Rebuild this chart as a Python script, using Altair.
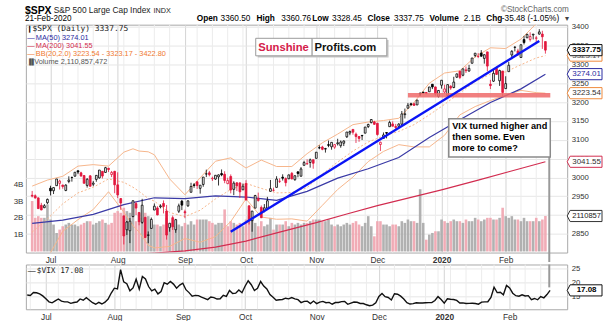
import json
import altair as alt
import pandas as pd

# ---------------------------------------------------------------- data
trading_days = {
    "2019-06": [21, 24, 25, 26, 27, 28],
    "2019-07": [1, 2, 3, 5, 8, 9, 10, 11, 12, 15, 16, 17, 18, 19, 22, 23, 24, 25, 26, 29, 30, 31],
    "2019-08": [1, 2, 5, 6, 7, 8, 9, 12, 13, 14, 15, 16, 19, 20, 21, 22, 23, 26, 27, 28, 29, 30],
    "2019-09": [3, 4, 5, 6, 9, 10, 11, 12, 13, 16, 17, 18, 19, 20, 23, 24, 25, 26, 27, 30],
    "2019-10": [1, 2, 3, 4, 7, 8, 9, 10, 11, 14, 15, 16, 17, 18, 21, 22, 23, 24, 25, 28, 29, 30, 31],
    "2019-11": [1, 4, 5, 6, 7, 8, 11, 12, 13, 14, 15, 18, 19, 20, 21, 22, 25, 26, 27, 29],
    "2019-12": [2, 3, 4, 5, 6, 9, 10, 11, 12, 13, 16, 17, 18, 19, 20, 23, 24, 26, 27, 30, 31],
    "2020-01": [2, 3, 6, 7, 8, 9, 10, 13, 14, 15, 16, 17, 21, 22, 23, 24, 27, 28, 29, 30, 31],
    "2020-02": [3, 4, 5, 6, 7, 10, 11, 12, 13, 14, 18, 19, 20, 21],
}
month_labels = ["Jul", "Aug", "Sep", "Oct", "Nov", "Dec", "2020", "Feb"]
prev_close_before = 2954.18

opens = [
    2952.71, 2951.42, 2945.78, 2926.07, 2919.66, 2932.94,
    2971.41, 2964.66, 2978.08, 2984.25, 2979.77, 2965.52, 2989.30, 2999.62, 3003.36, 3017.80, 3012.13,
    3005.10, 2978.87, 3004.26, 2981.93, 2994.74, 2998.77, 3016.26, 3013.25, 3024.47, 3007.66, 3016.22,
    2980.32, 2943.90, 2898.07, 2861.18, 2858.65, 2896.21, 2930.51, 2907.07, 2880.72, 2894.15, 2846.20,
    2864.74, 2913.48, 2919.01, 2922.04, 2930.94, 2911.07, 2866.70, 2893.14, 2861.28, 2910.37, 2937.09,
    2909.01, 2924.67, 2960.60, 2980.33, 2988.43, 2971.01, 2981.41, 3009.08, 3012.21, 2996.41, 2995.67,
    3001.50, 3010.36, 3008.42, 2983.50, 3002.43, 2968.35, 2985.73, 2985.47, 2967.07,
    2983.69, 2924.78, 2885.38, 2918.56, 2944.23, 2920.40, 2911.10, 2918.55, 2963.07, 2965.81, 2973.61,
    2989.68, 3000.77, 2996.84, 2996.48, 3010.73, 2994.01, 3014.78, 3003.32, 3032.12, 3035.39, 3039.74, 3046.90,
    3050.72, 3078.96, 3080.80, 3075.10, 3087.02, 3081.25, 3080.33, 3089.28, 3084.18, 3090.75, 3107.92,
    3117.91, 3127.45, 3114.66, 3108.49, 3111.41, 3117.44, 3134.85, 3145.49, 3147.18,
    3143.85, 3087.41, 3103.50, 3119.21, 3134.62, 3141.86, 3135.36, 3135.75, 3141.23, 3166.65, 3183.63,
    3195.40, 3195.21, 3192.32, 3223.33, 3226.05, 3225.45, 3227.20, 3247.23, 3240.09, 3215.18,
    3244.67, 3226.36, 3217.55, 3241.86, 3238.59, 3266.03, 3281.81, 3271.13, 3285.35, 3282.27, 3302.97,
    3323.66, 3321.03, 3330.02, 3315.77, 3333.10, 3247.16, 3255.35, 3289.46, 3256.45, 3282.33,
    3235.66, 3280.61, 3324.91, 3344.92, 3335.54, 3318.28, 3365.87, 3370.50, 3365.90, 3378.08, 3369.04,
    3380.39, 3380.45, 3360.50,
]
highs = [
    2964.15, 2954.92, 2946.52, 2932.59, 2929.30, 2943.98,
    2977.93, 2973.21, 2995.84, 2994.03, 2980.76, 2981.90, 3002.98, 3002.33, 3013.92, 3017.80, 3015.02,
    3005.26, 2998.28, 3006.02, 2990.71, 3005.90, 3019.59, 3016.31, 3027.98, 3025.61, 3017.19, 3017.40,
    3013.59, 2945.50, 2898.07, 2884.40, 2892.17, 2938.72, 2935.75, 2907.58, 2943.31, 2894.15, 2856.67,
    2893.63, 2931.00, 2923.63, 2928.73, 2939.08, 2927.01, 2879.27, 2898.79, 2890.03, 2930.50, 2940.43,
    2914.39, 2938.84, 2985.86, 2985.03, 2989.43, 2979.39, 3000.93, 3020.74, 3017.33, 3002.19, 3006.21,
    3007.83, 3021.19, 3016.37, 2999.15, 3007.98, 2989.82, 2987.28, 2987.31, 2983.85,
    2992.53, 2924.78, 2911.13, 2953.74, 2959.75, 2925.47, 2929.32, 2948.46, 2993.28, 2972.84, 3003.28,
    2997.54, 3008.29, 3000.00, 3007.33, 3014.57, 3004.78, 3016.07, 3027.39, 3044.08, 3047.87, 3050.10, 3046.90,
    3066.95, 3085.20, 3083.95, 3078.34, 3097.77, 3093.09, 3088.33, 3102.61, 3098.06, 3098.20, 3120.46,
    3124.17, 3127.64, 3118.97, 3110.11, 3112.87, 3133.83, 3142.69, 3154.26, 3150.30,
    3144.31, 3094.97, 3119.38, 3119.45, 3150.60, 3148.87, 3142.12, 3143.98, 3176.28, 3182.68, 3197.71,
    3198.22, 3198.48, 3205.48, 3225.65, 3227.78, 3226.43, 3240.08, 3247.93, 3240.92, 3231.72,
    3258.14, 3246.15, 3246.84, 3244.91, 3267.07, 3275.58, 3282.99, 3288.13, 3294.25, 3298.66, 3317.11,
    3329.88, 3329.79, 3337.77, 3326.88, 3333.18, 3258.85, 3285.78, 3293.47, 3285.91, 3282.33,
    3268.44, 3306.92, 3337.58, 3347.96, 3341.42, 3352.26, 3375.63, 3381.47, 3385.09, 3380.69, 3375.01,
    3393.52, 3389.15, 3360.76,
]
lows = [
    2946.87, 2944.05, 2916.01, 2912.99, 2918.57, 2929.05,
    2952.22, 2955.92, 2977.96, 2967.97, 2970.09, 2963.44, 2984.62, 2988.80, 3001.87, 3008.77, 3001.15,
    2984.25, 2973.09, 2975.86, 2976.65, 2988.56, 2996.82, 2997.24, 3012.59, 3014.30, 3000.94, 2958.08,
    2945.23, 2914.11, 2822.12, 2847.42, 2825.71, 2894.47, 2900.15, 2873.14, 2877.05, 2839.64, 2825.51,
    2864.74, 2913.48, 2899.60, 2917.91, 2904.51, 2834.97, 2856.00, 2860.59, 2853.05, 2905.67, 2913.32,
    2891.85, 2921.86, 2960.60, 2972.51, 2969.39, 2957.01, 2975.31, 3000.92, 3002.90, 2990.67, 2993.73,
    2978.57, 3003.16, 2984.68, 2982.23, 2957.73, 2952.86, 2963.71, 2945.53, 2967.07,
    2938.70, 2874.93, 2855.94, 2918.56, 2935.68, 2892.66, 2907.41, 2917.12, 2963.07, 2962.94, 2973.61,
    2985.20, 2991.79, 2976.31, 2995.35, 2995.04, 2991.21, 3000.42, 3001.94, 3032.12, 3034.81, 3025.96, 3023.19,
    3050.72, 3074.87, 3072.15, 3065.89, 3080.23, 3073.58, 3075.82, 3084.73, 3078.80, 3083.26, 3104.60,
    3112.06, 3113.47, 3091.41, 3094.55, 3099.26, 3117.44, 3131.00, 3143.41, 3139.34,
    3110.78, 3070.33, 3102.53, 3103.76, 3134.62, 3135.46, 3126.09, 3133.21, 3138.47, 3156.51, 3183.63,
    3191.03, 3191.14, 3192.32, 3216.03, 3222.30, 3220.51, 3227.20, 3234.37, 3216.57, 3212.03,
    3235.53, 3222.34, 3214.64, 3232.43, 3236.67, 3263.67, 3260.86, 3268.43, 3277.19, 3280.69, 3302.82,
    3318.86, 3316.61, 3320.04, 3301.87, 3281.53, 3234.50, 3253.22, 3271.89, 3242.80, 3214.68,
    3235.66, 3280.61, 3313.75, 3334.39, 3322.12, 3317.77, 3352.72, 3369.72, 3360.52, 3366.15, 3355.61,
    3378.83, 3341.02, 3328.45,
]
closes = [
    2950.46, 2945.35, 2917.38, 2913.78, 2924.92, 2941.76,
    2964.33, 2973.01, 2995.82, 2990.41, 2975.95, 2979.63, 2993.07, 2999.91, 3013.77, 3014.30, 3004.04,
    2984.42, 2995.11, 2976.61, 2985.03, 3005.47, 3019.56, 3003.67, 3025.86, 3020.97, 3013.18, 2980.38,
    2953.56, 2932.05, 2844.74, 2881.77, 2883.98, 2938.09, 2918.65, 2882.70, 2926.32, 2840.60, 2847.60,
    2888.68, 2923.65, 2900.51, 2924.43, 2922.95, 2847.11, 2878.38, 2869.16, 2887.94, 2924.58, 2926.46,
    2906.27, 2937.78, 2976.00, 2978.71, 2978.43, 2979.39, 3000.93, 3009.57, 3007.39, 2997.96, 3005.70,
    3006.73, 3006.79, 2992.07, 2991.78, 2966.60, 2984.87, 2977.62, 2961.79, 2976.74,
    2940.25, 2887.61, 2910.63, 2952.01, 2938.79, 2893.06, 2919.40, 2938.13, 2970.27, 2966.15, 2995.68,
    2989.69, 2997.95, 2986.20, 3006.72, 2995.99, 3004.52, 3010.29, 3022.55, 3039.42, 3036.89, 3046.77, 3037.56,
    3066.91, 3078.27, 3074.62, 3076.78, 3085.18, 3093.08, 3087.01, 3091.84, 3094.04, 3096.63, 3120.46,
    3122.03, 3120.18, 3108.46, 3103.54, 3110.29, 3133.64, 3140.52, 3153.63, 3140.98,
    3113.87, 3093.20, 3112.76, 3117.43, 3145.91, 3135.96, 3132.52, 3141.63, 3168.57, 3168.80, 3191.45,
    3192.52, 3191.14, 3205.37, 3221.22, 3224.01, 3223.38, 3239.91, 3240.02, 3221.29, 3230.78,
    3257.85, 3234.85, 3246.28, 3237.18, 3253.05, 3274.70, 3265.35, 3288.13, 3283.15, 3289.29, 3316.81,
    3329.62, 3320.79, 3321.75, 3325.54, 3295.47, 3243.63, 3276.24, 3273.40, 3283.66, 3225.52,
    3248.92, 3297.59, 3334.69, 3345.78, 3327.71, 3352.09, 3357.75, 3379.45, 3373.94, 3380.16, 3370.29,
    3386.15, 3373.23, 3337.75,
]
volume_bn = [
    3.0, 2.0, 2.1, 2.0, 2.0, 2.8,
    1.9, 1.6, 1.1, 1.3, 1.5, 1.6, 1.7, 1.6, 1.6, 1.5, 1.6, 1.7, 1.8, 1.8, 1.6, 1.7, 1.8, 1.9, 1.7, 1.6, 1.7, 2.3,
    2.4, 2.3, 2.6, 2.4, 2.3, 2.1, 1.8, 1.8, 2.0, 2.3, 2.1, 1.8, 1.6, 1.6, 1.5, 1.6, 2.0, 1.4, 1.7, 1.5, 1.6, 1.5,
    1.7, 1.6, 1.8, 1.6, 1.9, 1.9, 1.9, 1.9, 1.8, 1.7, 1.6, 1.7, 1.7, 2.5, 1.5, 1.8, 1.7, 1.6, 1.7, 1.5,
    1.9, 2.1, 1.9, 1.7, 1.5, 1.8, 1.5, 1.6, 2.0, 1.3, 1.6, 1.6, 1.6, 1.8, 1.5, 1.7, 1.6, 1.7, 1.6, 1.7, 1.7, 1.8, 1.9,
    1.9, 1.9, 1.8, 1.8, 1.9, 1.6, 1.5, 1.6, 1.5, 1.6, 1.7, 1.6, 1.7, 1.8, 1.6, 1.5, 1.7, 2.1, 1.5, 0.9,
    1.8, 1.8, 1.6, 1.6, 1.5, 1.6, 1.6, 1.5, 1.8, 1.7, 1.9, 1.8, 1.8, 1.7, 3.7, 1.7, 0.7, 1.0, 1.1, 1.2, 1.2,
    1.9, 1.8, 1.7, 1.8, 1.9, 1.8, 1.8, 1.7, 1.9, 1.8, 1.8, 2.0, 1.9, 1.8, 1.9, 2.0, 2.0, 1.9, 1.9, 2.0, 2.6,
    2.1, 2.0, 2.1, 1.9, 1.9, 1.8, 2.0, 1.8, 1.8, 1.8, 2.0, 1.8, 1.9, 2.11,
]
vix_close = [
    15.40, 15.26, 16.28, 16.21, 15.82, 15.08,
    14.06, 12.93, 12.57, 13.28, 13.96, 13.19, 12.93, 12.93, 12.39, 12.68, 12.86, 13.97, 13.53, 14.45,
    13.53, 12.61, 12.07, 12.74, 12.16, 12.83, 13.94, 16.12,
    17.87, 17.61, 24.59, 20.17, 19.49, 16.91, 17.97, 21.09, 17.52, 22.10, 21.18, 18.47, 16.88, 17.50,
    15.80, 16.68, 19.87, 19.32, 20.31, 19.35, 17.88, 18.98,
    19.66, 17.33, 16.27, 15.00, 15.27, 15.20, 14.61, 14.22, 13.74, 14.67, 14.44, 13.95, 14.05, 15.32,
    14.91, 17.05, 15.96, 16.07, 17.22, 16.24,
    18.56, 20.56, 19.12, 17.04, 17.86, 20.28, 18.64, 17.57, 15.58, 14.57, 13.54, 13.68, 13.79, 14.25,
    14.00, 14.46, 14.01, 13.71, 12.65, 13.11, 13.20, 12.33, 13.22,
    12.30, 12.83, 13.10, 12.62, 12.73, 12.07, 12.69, 12.68, 13.00, 13.05, 12.05, 12.46, 12.86, 12.78,
    12.34, 12.34, 11.87, 11.54, 11.75, 12.62,
    14.91, 15.96, 14.80, 14.52, 13.62, 15.86, 15.68, 14.99, 13.94, 12.63, 12.14, 12.29, 12.58, 12.50,
    12.51, 12.61, 12.67, 12.65, 13.43, 14.82, 13.78,
    12.47, 14.02, 13.85, 13.79, 13.45, 12.54, 12.56, 12.32, 12.39, 12.42, 12.32, 12.10, 12.85, 12.91,
    12.98, 14.56, 18.23, 16.28, 16.39, 15.49, 18.84,
    17.97, 16.05, 15.15, 14.96, 15.47, 15.04, 15.18, 13.74, 14.15, 13.68, 14.83, 14.38, 15.56, 17.08,
]

ma50_dates = ["2019-06-21", "2019-07-08", "2019-07-22", "2019-08-05", "2019-08-19", "2019-09-03",
              "2019-09-17", "2019-10-01", "2019-10-15", "2019-10-29", "2019-11-12", "2019-11-26",
              "2019-12-11", "2019-12-26", "2020-01-10", "2020-01-27", "2020-02-10", "2020-02-21"]
ma50_vals = [2878, 2886.5, 2902, 2928, 2946, 2944, 2951, 2948, 2939, 2963, 2998, 3023,
             3053, 3106, 3153, 3199, 3235, 3274.01]

ma200_dates = ["2019-08-01", "2019-08-20", "2019-09-03", "2019-09-17", "2019-10-01", "2019-10-16",
               "2019-11-01", "2019-11-15", "2019-12-02", "2019-12-17", "2020-01-02", "2020-01-21",
               "2020-02-04", "2020-02-21"]
ma200_vals = [2792, 2800, 2805, 2815, 2831, 2855, 2880, 2903, 2925, 2947, 2967, 2993, 3015, 3041.55]

bb_dates = ["2019-06-21", "2019-06-28", "2019-07-08", "2019-07-15", "2019-07-22", "2019-07-29",
            "2019-08-05", "2019-08-08", "2019-08-12", "2019-08-15", "2019-08-19", "2019-08-26",
            "2019-09-03", "2019-09-10", "2019-09-17", "2019-09-24", "2019-10-01", "2019-10-08",
            "2019-10-15", "2019-10-22", "2019-10-29", "2019-11-05", "2019-11-12", "2019-11-19",
            "2019-11-26", "2019-12-04", "2019-12-11", "2019-12-18", "2019-12-26", "2020-01-03",
            "2020-01-10", "2020-01-17", "2020-01-27", "2020-02-03", "2020-02-10", "2020-02-18",
            "2020-02-21"]
bb_lower = [2734, 2786, 2857, 2888, 2915, 2962, 2908, 2872, 2855, 2820, 2813, 2817, 2838, 2828,
            2843, 2883, 2943, 2895, 2889, 2890, 2884, 2926, 2968, 3001, 3042, 3069, 3087, 3081,
            3081, 3112, 3166, 3188, 3204, 3218, 3231, 3225, 3223.54]
bb_mid = [2855, 2890, 2930, 2959, 2974, 2996, 2987, 2974, 2963, 2944, 2937, 2907, 2896, 2913,
          2943, 2968, 2984, 2971, 2959, 2960, 2973, 3009, 3041, 3070, 3094, 3110, 3122, 3140,
          3166, 3194, 3224, 3254, 3274, 3280, 3299, 3317, 3323.17]
bb_upper = [2977, 2993, 3003, 3030, 3034, 3030, 3067, 3076, 3070, 3068, 3060, 2996, 2954, 2999,
            3043, 3052, 3025, 3046, 3029, 3029, 3063, 3092, 3115, 3140, 3147, 3151, 3157, 3199,
            3250, 3277, 3283, 3320, 3344, 3342, 3367, 3408, 3422.80]

trend_dates = ["2019-09-24", "2020-02-19"]
trend_prices = [2856, 3362]
support_dates = ["2019-12-16", "2020-02-21"]
support_band = [3212, 3224]

# ---------------------------------------------------------------- layout constants
OX, OY = 25.0, 23.0          # main plot origin on the page
W, H = 544, 229
VH = 45
X_DOMAIN = [-6.43, 167.5]
PRICE_DOMAIN = [2800.7, 3405.3]
VOL_DOMAIN = [-0.065, 13.49]
VIX_DOMAIN = [10.25, 26.44]
RED = "#e2173d"
FONT = "Liberation Sans"

dates = [f"{ym}-{d:02d}" for ym, days in trading_days.items() for d in days]
n = len(dates)
assert all(len(a) == n for a in (opens, highs, lows, closes, volume_bn, vix_close)), n
pos0 = dates.index("2019-07-01")


def ix(d):
    return dates.index(d) - pos0


prev = [prev_close_before] + closes[:-1]
df = pd.DataFrame({
    "idx": [i - pos0 for i in range(n)],
    "o": opens, "h": highs, "l": lows, "c": closes,
    "v": volume_bn, "vix": vix_close,
})
df["dir"] = ["down" if c < p else "up" for c, p in zip(closes, prev)]
df["body"] = [("filled-" if c < o else "hollow-") + d for c, o, d in zip(closes, opens, df["dir"])]

dt = pd.to_datetime(pd.Series(dates))
month_idx = [i - pos0 for i in range(1, n) if dt[i].month != dt[i - 1].month]
week_idx = [i - pos0 for i in range(1, n) if dt[i].dayofweek < dt[i - 1].dayofweek]
month_idx_set = set(month_idx)
week_idx = [w for w in week_idx if w not in month_idx_set]

LABEL_EXPR = f"{json.dumps(month_labels)}[indexof({json.dumps(month_idx)}, datum.value)]"
year_idx = month_idx[month_labels.index("2020")]

XS = alt.Scale(domain=X_DOMAIN, nice=False, zero=False)
XAX = alt.Axis(values=month_idx, labelExpr=LABEL_EXPR,
               labelFontWeight={"condition": {"test": f"datum.value == {year_idx}", "value": "bold"},
                                "value": "normal"},
               title=None, ticks=False, tickSize=0, domain=False, grid=True, gridColor="#d4d4d4",
               labelFontSize=8.4, labelColor="#333333", labelPadding=3, labelFont=FONT,
               labelOverlap=False, labelFlush=False)


def xq(field="idx"):
    return alt.X(f"{field}:Q", scale=XS, axis=XAX)


PS = alt.Scale(domain=PRICE_DOMAIN, nice=False, zero=False)
PAX = alt.Axis(orient="right", values=list(range(2850, 3401, 50)), format="d", title=None,
               ticks=False, tickSize=0, domain=False, grid=True, gridColor="#e6e6e6",
               labelFontSize=7.8, labelColor="#333333", labelPadding=4, labelFont=FONT)


def py(field):
    return alt.Y(f"{field}:Q", scale=PS, axis=PAX)


VS = alt.Scale(domain=VOL_DOMAIN, nice=False, zero=False)
VAX = alt.Axis(orient="left", values=[1, 2, 3, 4], labelExpr="datum.value + 'B'", title=None,
               ticks=False, tickSize=0, domain=False, grid=False, labelFontSize=8,
               labelColor="#333333", labelPadding=3, labelFont=FONT)

VIXS = alt.Scale(domain=VIX_DOMAIN, nice=False, zero=False)
VIXAX = alt.Axis(orient="right", values=[15, 20, 25], format="d", title=None, ticks=False,
                 tickSize=0, domain=False, grid=True, gridColor="#e6e6e6", labelFontSize=7.8,
                 labelColor="#333333", labelPadding=4, labelFont=FONT)

ONE = pd.DataFrame({"k": [0]})


def ptxt(s, x, y, size, color="#000000", weight="normal", font=FONT, align="left",
         baseline="alphabetic", ox=OX, oy=OY):
    return alt.Chart(pd.DataFrame({"t": [s]})).mark_text(
        align=align, baseline=baseline, fontSize=size, font=font, fontWeight=weight, color=color
    ).encode(text="t:N", x=alt.value(x - ox), y=alt.value(y - oy))


def prect(x1, y1, x2, y2, fill, stroke=None, sw=1.0, ox=OX, oy=OY):
    kw = {"fill": fill}
    if stroke:
        kw["stroke"] = stroke
        kw["strokeWidth"] = sw
    return alt.Chart(ONE).mark_rect(**kw).encode(
        x=alt.value(x1 - ox), x2=alt.value(x2 - ox), y=alt.value(y1 - oy), y2=alt.value(y2 - oy))


def prule(x1, y1, x2, y2, color, sw=1.0, ox=OX, oy=OY, opacity=1.0):
    return alt.Chart(ONE).mark_rule(color=color, strokeWidth=sw, opacity=opacity).encode(
        x=alt.value(x1 - ox), x2=alt.value(x2 - ox), y=alt.value(y1 - oy), y2=alt.value(y2 - oy))


TAG_PATH = "M -1 0 L -0.83 -0.32 L 1 -0.32 L 1 0.32 L -0.83 0.32 Z"


def tag(value, label, border, tcolor, yenc, bold=False, size=8, ox=OX):
    d = alt.Chart(pd.DataFrame({"val": [value], "lab": [label]}))
    shape = d.mark_point(shape=TAG_PATH, size=1225, filled=True, fill="white", stroke=border,
                         strokeWidth=1, opacity=1).encode(x=alt.value(586.5 - ox), y=yenc)
    text = d.mark_text(align="center", baseline="middle", fontSize=size, font=FONT,
                       fontWeight="bold" if bold else "normal", color=tcolor).encode(
        x=alt.value(588.5 - ox), y=yenc, text="lab:N")
    return [shape, text]


def indicator(dlist, vals, color, width=1.0, dash=None):
    d = pd.DataFrame({"idx": [ix(x) for x in dlist], "val": vals})
    kw = dict(color=color, strokeWidth=width, clip=True)
    if dash:
        kw["strokeDash"] = dash
    return alt.Chart(d).mark_line(**kw).encode(x=xq(), y=py("val"))


# ---------------------------------------------------------------- main panel
grid_weeks = alt.Chart(pd.DataFrame({"idx": week_idx})).mark_rule(
    color="#ececec", strokeWidth=1).encode(x=xq(), y=alt.value(0), y2=alt.value(H))

vol_bars = alt.Chart(df).mark_bar(size=2.6, opacity=0.9).encode(
    x=xq(), y=alt.Y("v:Q", scale=VS, axis=VAX), y2=alt.Y2Datum(0),
    color=alt.Color("dir:N", scale=alt.Scale(domain=["up", "down"], range=["#a9a9a9", "#efa3ae"]),
                    legend=None))
vol_group = alt.layer(
    vol_bars,
    *tag(volume_bn[-1], "2110857", "#333333", "#222222", alt.Y("val:Q", scale=VS, axis=VAX), size=7.6),
)

bb_col = "#f6b58b"
support_df = pd.DataFrame({"x1": [ix(support_dates[0])], "x2": [ix(support_dates[1]) + 1.6],
                           "lo": [support_band[0]], "hi": [support_band[1]]})
trend_df = pd.DataFrame({"idx": [ix(d) for d in trend_dates], "val": trend_prices})

stroke_scale = alt.Scale(domain=["up", "down"], range=["#000000", RED])
fill_scale = alt.Scale(domain=["hollow-up", "hollow-down", "filled-up", "filled-down"],
                       range=["#ffffff", "#ffffff", "#000000", RED])

price_group = alt.layer(
    indicator(bb_dates, bb_upper, bb_col, 1.0),
    indicator(bb_dates, bb_lower, bb_col, 1.0),
    indicator(bb_dates, bb_mid, bb_col, 1.0, [2, 2]),
    indicator(ma200_dates, ma200_vals, "#d22d50", 1.2),
    indicator(ma50_dates, ma50_vals, "#3a3aa6", 1.2),
    alt.Chart(df).mark_rule(strokeWidth=0.8).encode(
        x=xq(), y=py("l"), y2=alt.Y2("h:Q"),
        stroke=alt.Stroke("dir:N", scale=stroke_scale, legend=None)),
    alt.Chart(df).mark_bar(size=1.8, strokeWidth=0.8).encode(
        x=xq(), y=py("o"), y2=alt.Y2("c:Q"),
        stroke=alt.Stroke("dir:N", scale=stroke_scale, legend=None),
        fill=alt.Fill("body:N", scale=fill_scale, legend=None)),
    alt.Chart(support_df).mark_rect(color="#ee6a6a", opacity=0.85).encode(
        x=alt.X("x1:Q", scale=XS, axis=XAX), x2="x2:Q", y=py("lo"), y2="hi:Q"),
    alt.Chart(trend_df).mark_line(color="#0a14f5", strokeWidth=2.4).encode(x=xq(), y=py("val")),
    *tag(bb_mid[-1], "3323.17", "#f08a3c", "#555555", py("val")),
    *tag(closes[-1], "3337.75", "#111111", "#000000", py("val"), bold=True),
    *tag(ma50_vals[-1], "3274.01", "#2a2aa0", "#2a2aa0", py("val")),
    *tag(bb_lower[-1], "3223.54", "#f08a3c", "#333333", py("val")),
    *tag(ma200_vals[-1], "3041.55", "#d22d50", "#333333", py("val")),
)

annot = alt.layer(
    # bounds anchors (white, invisible) so the page origin sits where the reference has it
    prule(0, 0, 1, 0, "#ffffff"),
    prule(0, 262, 1, 262, "#ffffff"),
    # title block
    ptxt("$SPX", 24, 11.8, 10.5, weight="bold"),
    ptxt("S&P 500 Large Cap Index", 53, 11.5, 8.4, "#222222"),
    ptxt("INDX", 153.3, 11.5, 7.3, "#222222"),
    ptxt("\u00a9StockCharts.com", 570.7, 10, 8.2, "#666666", align="right"),
    ptxt("21-Feb-2020", 24, 19.3, 8.2),
    ptxt("Open", 196.7, 19.3, 8.3, weight="bold"),
    ptxt("3360.50", 220.7, 19.3, 8.3),
    ptxt("High", 256.7, 19.3, 8.3, weight="bold"),
    ptxt("3360.76", 281.7, 19.3, 8.3),
    ptxt("Low", 312.7, 19.3, 8.3, weight="bold"),
    ptxt("3328.45", 332.7, 19.3, 8.3),
    ptxt("Close", 368.3, 19.3, 8.3, weight="bold"),
    ptxt("3337.75", 395, 19.3, 8.3),
    ptxt("Volume", 430.7, 19.3, 8.3, weight="bold"),
    ptxt("2.1B", 465, 19.3, 8.3),
    ptxt("Chg", 487.7, 19.3, 8.3, weight="bold"),
    ptxt("-35.48 (-1.05%)", 503.3, 19.3, 8.3),
    ptxt("\u25be", 566.5, 19.3, 8, "#444444"),
    # in-plot legend
    ptxt("\u2759", 26, 27.5, 7, baseline="middle", font="DejaVu Sans"),
    ptxt("$SPX (Daily) 3337.75", 31.7, 27.5, 8, "#222222", font="DejaVu Sans Mono", baseline="middle"),
    ptxt("\u2014", 26.5, 36, 7.4, "#2a2aa0", baseline="middle"),
    ptxt("MA(50) 3274.01", 35, 36, 7.4, "#2a2aa0", baseline="middle"),
    ptxt("\u2014", 26.5, 44.3, 7.4, "#d22d50", baseline="middle"),
    ptxt("MA(200) 3041.55", 35, 44.3, 7.4, "#d22d50", baseline="middle"),
    ptxt("\u2014", 26.5, 52.7, 7.4, "#f07a30", baseline="middle"),
    ptxt("BB(20,2.0) 3223.54 - 3323.17 - 3422.80", 35, 52.7, 7.4, "#f07a30", baseline="middle"),
    ptxt("\u2590\u258c", 26, 61, 6, "#555555", baseline="middle", font="DejaVu Sans"),
    ptxt("Volume 2,110,857,472", 33.3, 61, 7.4, "#555555", baseline="middle"),
    # Sunshine Profits logo
    prect(258, 38.5, 389.5, 56, "#c8c8c8"),
    prect(256, 36.7, 312.7, 54.3, "#ffffff", "#9a9a9a", 1),
    prect(312.7, 36.7, 387.7, 54.3, "#ffffff", "#9a9a9a", 1),
    ptxt("Sunshine", 258.5, 49.5, 11.3, "#d4204a", weight="bold"),
    ptxt("Profits.com", 315, 49.5, 11.3, "#111111", weight="bold"),
    # VIX comment
    prule(551, 156, 551, 261.5, "#9a9a9a", 2),
    prect(450, 117.5, 552, 156, "#ffffff", "#8a8a8a", 1.5),
    ptxt("VIX turned higher and", 453.5, 127.5, 9.2, weight="bold"),
    ptxt("then some. Even", 453.5, 138.5, 9.2, weight="bold"),
    ptxt("more to come?", 453.5, 149.5, 9.2, weight="bold"),
)

main = alt.layer(grid_weeks, vol_group, price_group, annot).resolve_scale(
    y="independent").properties(width=W, height=H)

# ---------------------------------------------------------------- VIX panel
VOY = 263.0
vix_weeks = alt.Chart(pd.DataFrame({"idx": week_idx})).mark_rule(
    color="#ececec", strokeWidth=1).encode(x=xq(), y=alt.value(0), y2=alt.value(VH))
vix_y = alt.Y("val:Q", scale=VIXS, axis=VIXAX)
vix_panel = alt.layer(
    vix_weeks,
    alt.Chart(df).mark_line(color="#111111", strokeWidth=1.4).encode(
        x=xq(), y=alt.Y("vix:Q", scale=VIXS, axis=VIXAX)),
    prule(551, 263, 551, 286, "#9a9a9a", 2, oy=VOY),
    prule(0, 270, 1, 270, "#ffffff", oy=VOY),
    ptxt("\u2014", 27, 269.5, 8, "#000000", baseline="middle", oy=VOY),
    ptxt("$VIX 17.08", 36, 269.5, 7.8, "#222222", font="DejaVu Sans Mono", baseline="middle", oy=VOY),
    *tag(vix_close[-1], "17.08", "#111111", "#000000", vix_y, bold=True),
).properties(width=W, height=VH)

chart = alt.vconcat(main, vix_panel, spacing=-3).properties(
    padding={"left": 0, "top": 0, "right": 0, "bottom": 0}
).configure_view(stroke="#a8a8a8", strokeWidth=1)

chart.save("out.html", embed_options={"renderer": "svg", "actions": False})
